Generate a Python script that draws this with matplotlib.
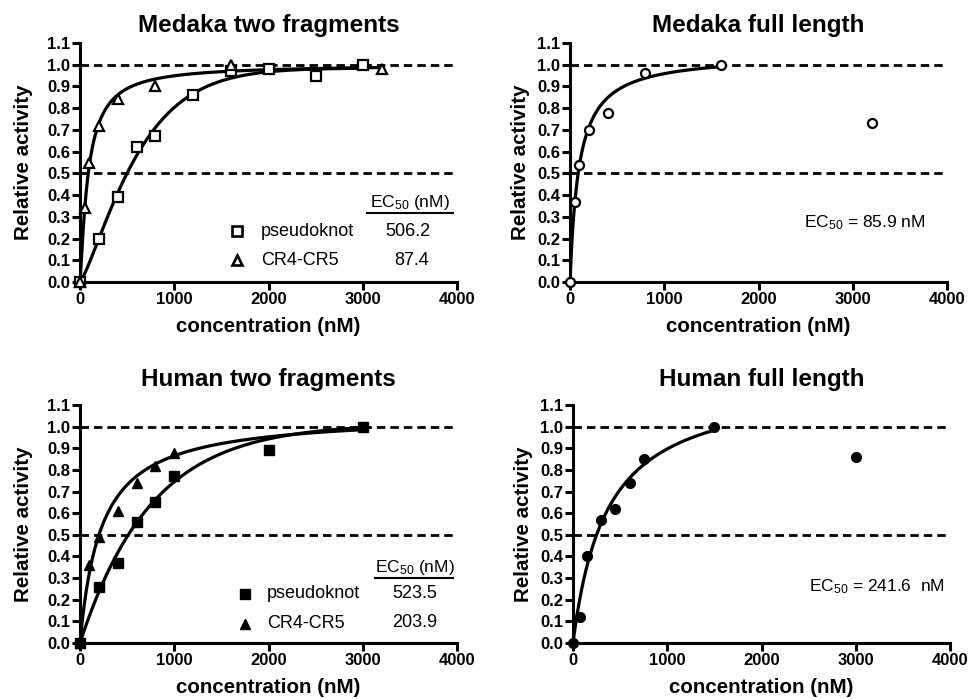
import numpy as np
import matplotlib
matplotlib.use("Agg")
import matplotlib.pyplot as plt

plt.rcParams['font.family'] = ['Liberation Sans', 'DejaVu Sans']
plt.rcParams['mathtext.default'] = 'regular'

# ---- data ----
# Medaka two fragments
mtf_pk_x = [0, 200, 400, 600, 800, 1200, 1600, 2000, 2500, 3000]
mtf_pk_y = [0.0, 0.20, 0.39, 0.62, 0.67, 0.86, 0.97, 0.98, 0.95, 1.00]
mtf_cr_x = [0, 50, 100, 200, 400, 800, 1600, 3200]
mtf_cr_y = [0.0, 0.34, 0.55, 0.72, 0.84, 0.90, 1.00, 0.98]

# Medaka full length
mfl_x = [0, 50, 100, 200, 400, 800, 1600, 3200]
mfl_y = [0.0, 0.37, 0.54, 0.70, 0.78, 0.96, 1.00, 0.73]

# Human two fragments
htf_pk_x = [0, 200, 400, 600, 800, 1000, 2000, 3000]
htf_pk_y = [0.0, 0.26, 0.37, 0.56, 0.65, 0.77, 0.89, 1.00]
htf_cr_x = [0, 100, 200, 400, 600, 800, 1000]
htf_cr_y = [0.0, 0.36, 0.49, 0.61, 0.74, 0.82, 0.88]

# Human full length
hfl_x = [0, 75, 150, 300, 450, 600, 750, 1500, 3000]
hfl_y = [0.0, 0.12, 0.40, 0.57, 0.62, 0.74, 0.85, 1.00, 0.86]

# fitted curves: (model, top, half, slope, x_end)
fit_mtf_pk = ('weib', 0.985, 490, 1.25, 3000)
fit_mtf_cr = ('hill', 1.0, 87.4, 1.2, 3200)
fit_mfl = ('hill', 1.05, 95, 1.0, 1600)
fit_htf_pk = ('weib', 1.015, 523.5, 1.0, 3000)
fit_htf_cr = ('hill', 1.06, 225, 1.0, 3000)
fit_hfl = ('hill', 1.22, 360, 1.0, 1500)

ec50_mtf = ['506.2', '87.4']
ec50_htf = ['523.5', '203.9']
ec50_mfl = '85.9'
ec50_hfl = '241.6'


def fit_curve(p):
    model, top, half, n, xend = p
    x = np.linspace(0, xend, 400)
    if model == 'hill':
        y = top * x**n / (half**n + x**n)
    else:
        y = top * (1 - np.exp(-np.log(2) * (x / half)**n))
    return x, y


fig = plt.figure(figsize=(9.68, 6.99), dpi=100)


def make_axes(left, top_px, bottom_px, title, tpad, ylpad):
    W, H = 968, 699
    ax = fig.add_axes([left / W, (H - bottom_px) / H, 377 / W, (bottom_px - top_px) / H])
    ax.set_xlim(0, 4000)
    ax.set_ylim(0, 1.1)
    ax.spines['right'].set_visible(False)
    ax.spines['top'].set_visible(False)
    for s in ['left', 'bottom']:
        ax.spines[s].set_linewidth(2.2)
    ax.set_xticks([0, 1000, 2000, 3000, 4000])
    ax.set_yticks(np.round(np.arange(0, 1.11, 0.1), 1))
    ax.set_yticklabels(['%.1f' % v for v in np.arange(0, 1.11, 0.1)])
    ax.tick_params(direction='out', length=5.5, width=2.2, labelsize=12, pad=1.5)
    for lab in ax.get_xticklabels() + ax.get_yticklabels():
        lab.set_fontweight('bold')
    ax.set_xlabel('concentration (nM)', fontsize=14.8, fontweight='bold', labelpad=7.5)
    ax.set_ylabel('Relative activity', fontsize=14.8, fontweight='bold', labelpad=ylpad)
    ax.set_title(title, fontsize=17.5, fontweight='bold', pad=tpad)
    for yy in (1.0, 0.5):
        ax.axhline(yy, color='black', lw=2.0, ls=(0, (3.05, 1.8)), zorder=1)
    return ax


lw = 2.3

# Medaka two fragments
ax1 = make_axes(80, 43, 282, 'Medaka two fragments', 8, 10)
ax1.plot(*fit_curve(fit_mtf_pk), color='black', lw=lw, zorder=2)
ax1.plot(*fit_curve(fit_mtf_cr), color='black', lw=lw, zorder=2)
ax1.plot(mtf_pk_x, mtf_pk_y, 's', ms=7.5, mfc='white', mec='black', mew=1.6, clip_on=False, zorder=3)
ax1.plot(mtf_cr_x, mtf_cr_y, '^', ms=7.5, mfc='white', mec='black', mew=1.6, clip_on=False, zorder=3)
ax1.text(0.875, 0.331, r'EC$_{50}$ (nM)', transform=ax1.transAxes, ha='center', va='center', fontsize=12.5)
ax1.plot([0.761, 0.989], [0.289, 0.289], transform=ax1.transAxes, color='black', lw=1.5)
ax1.plot([0.416], [0.213], 's', ms=7, mfc='white', mec='black', mew=1.9, transform=ax1.transAxes)
ax1.plot([0.416], [0.092], '^', ms=7, mfc='white', mec='black', mew=1.9, transform=ax1.transAxes)
ax1.text(0.48, 0.213, 'pseudoknot', transform=ax1.transAxes, ha='left', va='center', fontsize=13)
ax1.text(0.48, 0.092, 'CR4-CR5', transform=ax1.transAxes, ha='left', va='center', fontsize=13)
ax1.text(0.870, 0.213, ec50_mtf[0], transform=ax1.transAxes, ha='center', va='center', fontsize=13)
ax1.text(0.880, 0.092, ec50_mtf[1], transform=ax1.transAxes, ha='center', va='center', fontsize=13)

# Medaka full length
ax2 = make_axes(570, 43, 282, 'Medaka full length', 8, 5)
ax2.plot(*fit_curve(fit_mfl), color='black', lw=lw, zorder=2)
ax2.plot(mfl_x, mfl_y, 'o', ms=6.5, mfc='white', mec='black', mew=1.6, clip_on=False, zorder=3)
ax2.text(0.782, 0.247, r'EC$_{50}$ = %s nM' % ec50_mfl, transform=ax2.transAxes,
         ha='center', va='center', fontsize=12.5)

# Human two fragments
ax3 = make_axes(80, 405, 643, 'Human two fragments', 14, 10)
ax3.plot(*fit_curve(fit_htf_pk), color='black', lw=lw, zorder=2)
ax3.plot(*fit_curve(fit_htf_cr), color='black', lw=lw, zorder=2)
ax3.plot(htf_pk_x, htf_pk_y, 's', ms=7.5, color='black', clip_on=False, zorder=3)
ax3.plot(htf_cr_x, htf_cr_y, '^', ms=7.5, color='black', clip_on=False, zorder=3)
ax3.text(0.889, 0.319, r'EC$_{50}$ (nM)', transform=ax3.transAxes, ha='center', va='center', fontsize=12.5)
ax3.plot([0.782, 0.989], [0.273, 0.273], transform=ax3.transAxes, color='black', lw=1.5)
ax3.plot([0.438], [0.206], 's', ms=7, color='black', transform=ax3.transAxes)
ax3.plot([0.438], [0.080], '^', ms=7, color='black', transform=ax3.transAxes)
ax3.text(0.496, 0.206, 'pseudoknot', transform=ax3.transAxes, ha='left', va='center', fontsize=13)
ax3.text(0.496, 0.080, 'CR4-CR5', transform=ax3.transAxes, ha='left', va='center', fontsize=13)
ax3.text(0.889, 0.206, ec50_htf[0], transform=ax3.transAxes, ha='center', va='center', fontsize=13)
ax3.text(0.889, 0.085, ec50_htf[1], transform=ax3.transAxes, ha='center', va='center', fontsize=13)

# Human full length
ax4 = make_axes(573, 405, 643, 'Human full length', 14, 5)
ax4.plot(*fit_curve(fit_hfl), color='black', lw=lw, zorder=2)
ax4.plot(hfl_x, hfl_y, 'o', ms=7, color='black', clip_on=False, zorder=3)
ax4.text(0.806, 0.235, r'EC$_{50}$ = %s  nM' % ec50_hfl, transform=ax4.transAxes,
         ha='center', va='center', fontsize=12.5)

fig.savefig('out.png', dpi=100)
